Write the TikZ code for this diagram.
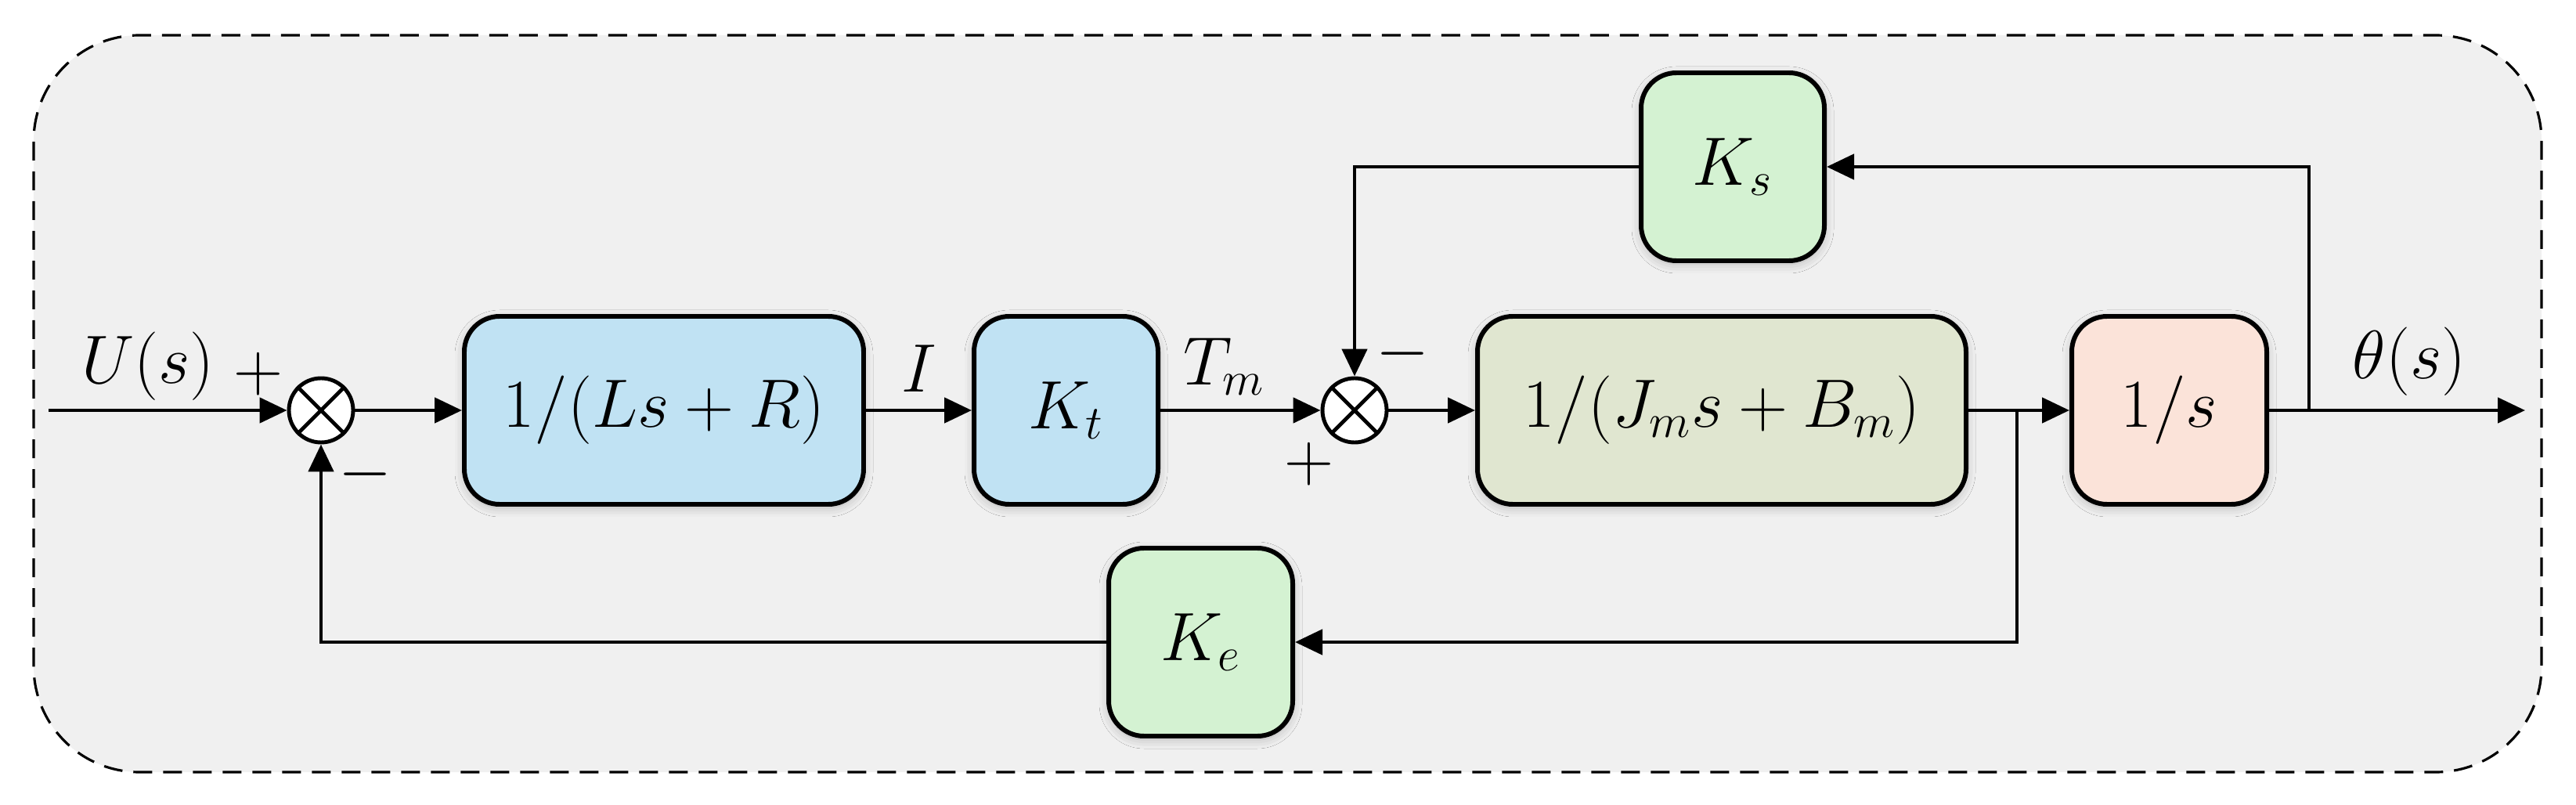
\documentclass[tikz,border=0pt]{standalone}
\usepackage{amsmath}
\usetikzlibrary{arrows.meta,shadows.blur}
\definecolor{bgray}{HTML}{F0F0F0}
\definecolor{bblue}{HTML}{C0E2F3}
\definecolor{bgreen}{HTML}{D4F2D2}
\definecolor{bolive}{HTML}{E0E6D0}
\definecolor{bpeach}{HTML}{FBE3D9}
\begin{document}
\begin{tikzpicture}[
   font=\fontsize{24}{29}\selectfont,
   block/.style={draw=black, line width=1.7pt, rounded corners=0.45cm, minimum height=2.4cm,
      blur shadow={shadow xshift=0pt, shadow yshift=-0.4mm, shadow blur radius=1.2mm, shadow opacity=25}},
   summer/.style={draw=black, fill=white, line width=1.4pt, circle, minimum size=0.82cm, inner sep=0pt},
   arr/.style={line width=1.4pt, -{Triangle[length=3.5mm,width=3.2mm]}},
   sgn/.style={inner sep=0pt}
  ]
   \useasboundingbox (0, 0) rectangle (32.9, 10.27);
   \filldraw[fill=bgray, draw=black, line width=0.9pt, dash pattern=on 2.4mm off 1.4mm, rounded corners=1.35cm]
      (0.43, 0.41) rectangle (32.46, 9.82);
   \node[summer] (s1) at (4.10, 5.03) {};
   \node[block, fill=bblue, minimum width=5.10cm] (lsr) at (8.48, 5.03) {$1/(Ls+R)$};
   \node[block, fill=bblue, minimum width=2.35cm] (kt) at (13.615, 5.03) {$K_t$};
   \node[summer] (s2) at (17.30, 5.03) {};
   \node[block, fill=bolive, minimum width=6.24cm] (jmb) at (21.99, 5.03) {$1/(J_m s+B_m)$};
   \node[block, fill=bpeach, minimum width=2.49cm] (integ) at (27.705, 5.03) {$1/s$};
   \node[block, fill=bgreen, minimum width=2.34cm] (ks) at (22.13, 8.14) {$K_s$};
   \node[block, fill=bgreen, minimum width=2.35cm] (ke) at (15.335, 2.07) {$K_e$};
   \foreach \s in {s1, s2} {
      \draw[line width=1.4pt] (\s.north west) -- (\s.south east);
      \draw[line width=1.4pt] (\s.north east) -- (\s.south west);
   }
   \coordinate (uin) at (0.62, 5.03);
   \coordinate (thout) at (32.25, 5.03);
   \coordinate (vbr) at (25.76, 5.03);
   \coordinate (pbr) at (29.49, 5.03);
   \draw[arr] (uin) -- (s1);
   \draw[arr] (s1) -- (lsr);
   \draw[arr] (lsr) -- (kt);
   \draw[arr] (kt) -- (s2);
   \draw[arr] (s2) -- (jmb);
   \draw[arr] (jmb) -- (integ);
   \draw[arr] (integ) -- (thout);
   \draw[arr] (vbr) |- (ke);
   \draw[arr] (ke) -| (s1);
   \draw[arr] (pbr) |- (ks);
   \draw[arr] (ks) -| (s2);
   \node (lu) at (1.89, 5.59) {$U(s)$};
   \node[sgn] (p1) at (3.30, 5.49) {$+$};
   \node[sgn] (m1) at (4.66, 4.21) {$-$};
   \node (li) at (11.74, 5.56) {$I$};
   \node (ltm) at (15.63, 5.59) {$T_m$};
   \node[sgn] (m2) at (17.91, 5.75) {$-$};
   \node[sgn] (p2) at (16.72, 4.34) {$+$};
   \node (lth) at (30.77, 5.65) {$\theta(s)$};
  \end{tikzpicture}
\end{document}
